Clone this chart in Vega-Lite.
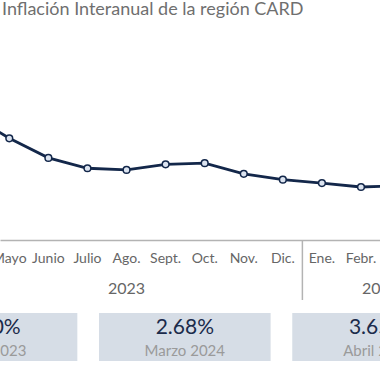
{
  "$schema": "https://vega.github.io/schema/vega-lite/v6.json",
  "padding": {"left": 0, "top": 1, "right": 0, "bottom": 0},
  "autosize": {"type": "pad"},
  "background": "white",
  "config": {"view": {"stroke": null}, "font": "Lato"},
  "title": {"text": "Inflación Interanual de la región CARD", "anchor": "start", "frame": "group", "fontSize": 18, "font": "Lato", "fontWeight": "normal", "color": "#6f6f6f", "offset": 4, "dx": 2},
  "datasets": {
    "serie": [
      {"i": 0, "mes": "Abril", "anio": "2023", "valor": 5.20},
      {"i": 1, "mes": "Mayo", "anio": "2023", "valor": 4.37},
      {"i": 2, "mes": "Junio", "anio": "2023", "valor": 3.67},
      {"i": 3, "mes": "Julio", "anio": "2023", "valor": 3.30},
      {"i": 4, "mes": "Ago.", "anio": "2023", "valor": 3.24},
      {"i": 5, "mes": "Sept.", "anio": "2023", "valor": 3.44},
      {"i": 6, "mes": "Oct.", "anio": "2023", "valor": 3.48},
      {"i": 7, "mes": "Nov.", "anio": "2023", "valor": 3.10},
      {"i": 8, "mes": "Dic.", "anio": "2023", "valor": 2.89},
      {"i": 9, "mes": "Ene.", "anio": "2024", "valor": 2.77},
      {"i": 10, "mes": "Febr.", "anio": "2024", "valor": 2.63},
      {"i": 11, "mes": "Marzo", "anio": "2024", "valor": 2.68},
      {"i": 12, "mes": "Abril", "anio": "2024", "valor": 3.65}
    ],
    "frontera": [{"x": 8.5}],
    "cajas": [
      {"periodo": "Abril 2023", "valor": 0.0520},
      {"periodo": "Marzo 2024", "valor": 0.0268},
      {"periodo": "Abril 2024", "valor": 0.0365}
    ]
  },
  "spacing": 13,
  "vconcat": [
    {
      "spacing": 0,
      "bounds": "flush",
      "vconcat": [
        {
          "width": 380,
          "height": 217,
          "data": {"name": "serie"},
          "layer": [
            {
              "mark": {"type": "line", "clip": true, "color": "#13274a", "strokeWidth": 2.8},
              "encoding": {
                "x": {"field": "i", "type": "quantitative", "scale": {"domain": [0.762, 10.486], "nice": false, "zero": false}, "axis": {"labels": false, "ticks": false, "grid": false, "title": null, "domainColor": "#b3b3b3", "domainWidth": 1.5}},
                "y": {"field": "valor", "type": "quantitative", "scale": {"domain": [0.737, 8.487], "nice": false, "zero": false}, "axis": null}
              }
            },
            {
              "mark": {"type": "circle", "clip": true, "filled": true, "fill": "#dce4f0", "stroke": "#13274a", "strokeWidth": 1.5, "size": 45, "opacity": 1},
              "encoding": {
                "x": {"field": "i", "type": "quantitative", "scale": {"domain": [0.762, 10.486], "nice": false, "zero": false}},
                "y": {"field": "valor", "type": "quantitative", "scale": {"domain": [0.737, 8.487], "nice": false, "zero": false}}
              }
            }
          ]
        },
        {
          "width": 380,
          "height": 60,
          "layer": [
            {
              "data": {"name": "serie"},
              "mark": {"type": "text", "clip": true, "fontSize": 14, "color": "#666666", "dy": -11},
              "encoding": {
                "x": {"field": "i", "type": "quantitative", "scale": {"domain": [0.762, 10.486], "nice": false, "zero": false}, "axis": null},
                "text": {"field": "mes", "type": "nominal"}
              }
            },
            {
              "data": {"name": "serie"},
              "mark": {"type": "text", "clip": true, "fontSize": 16, "color": "#666666", "dy": 19},
              "encoding": {
                "x": {"aggregate": "mean", "field": "i", "type": "quantitative", "scale": {"domain": [0.762, 10.486], "nice": false, "zero": false}, "axis": null},
                "text": {"field": "anio", "type": "nominal"}
              }
            },
            {
              "data": {"name": "frontera"},
              "mark": {"type": "rule", "clip": true, "color": "#b3b3b3", "strokeWidth": 1.5},
              "encoding": {
                "x": {"field": "x", "type": "quantitative", "scale": {"domain": [0.762, 10.486], "nice": false, "zero": false}, "axis": null}
              }
            }
          ]
        }
      ]
    },
    {
      "width": 380,
      "height": 48,
      "data": {"name": "cajas"},
      "layer": [
        {
          "mark": {"type": "bar", "clip": true, "color": "#d6dde6"},
          "encoding": {
            "x": {"field": "periodo", "type": "ordinal", "sort": null, "scale": {"range": [-94.3, 463.9], "paddingInner": 0.112, "paddingOuter": 0}, "axis": null}
          }
        },
        {
          "mark": {"type": "text", "clip": true, "fontSize": 21, "color": "#1b2b4b", "dy": -9},
          "encoding": {
            "x": {"field": "periodo", "type": "ordinal", "sort": null, "scale": {"range": [-94.3, 463.9], "paddingInner": 0.112, "paddingOuter": 0}, "axis": null},
            "text": {"field": "valor", "type": "quantitative", "format": ".2%"}
          }
        },
        {
          "mark": {"type": "text", "clip": true, "fontSize": 15, "color": "#9a9a9a", "dy": 14},
          "encoding": {
            "x": {"field": "periodo", "type": "ordinal", "sort": null, "scale": {"range": [-94.3, 463.9], "paddingInner": 0.112, "paddingOuter": 0}, "axis": null},
            "text": {"field": "periodo", "type": "nominal"}
          }
        }
      ]
    }
  ]
}
